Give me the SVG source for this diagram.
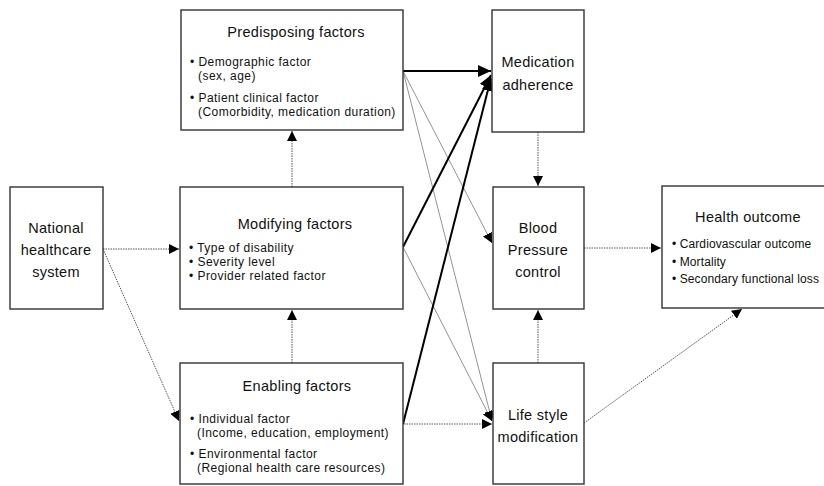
<svg xmlns="http://www.w3.org/2000/svg" width="824" height="486" viewBox="0 0 824 486">
<style>
.box{fill:#fff;stroke:#333;stroke-width:1.4}
text{font-family:"Liberation Sans",Arial,sans-serif;fill:#111}
.lbl{font-size:14.5px;text-anchor:middle;letter-spacing:0.3px}
.ttl{font-size:14.5px;text-anchor:middle;letter-spacing:0.3px}
.itm{font-size:12px;letter-spacing:0.45px}
.itm2{font-size:12px;letter-spacing:0.1px}
.dot{fill:none;stroke:#555;stroke-width:1;stroke-dasharray:1.5,1}
.thin{fill:none;stroke:#777;stroke-width:0.8}
.thick{fill:none;stroke:#000;stroke-width:2}
</style>
<defs>
<marker id="ah" markerUnits="userSpaceOnUse" markerWidth="10" markerHeight="10" refX="10" refY="5" orient="auto">
<path d="M0,0 L10,5 L0,10 z" fill="#000"/>
</marker>
<marker id="ahb" markerUnits="userSpaceOnUse" markerWidth="14" markerHeight="12" refX="13" refY="6" orient="auto">
<path d="M0,0 L13,6 L0,12 z" fill="#000"/>
</marker>
</defs>
<rect width="824" height="486" fill="#fff"/>
<g id="connectors">
<path class="dot" d="M103,249 L179,249" marker-end="url(#ah)"/>
<path class="dot" d="M103,249 L179,421" marker-end="url(#ah)"/>
<path class="dot" d="M292,187 L292,131" marker-end="url(#ah)"/>
<path class="dot" d="M292,363 L292,310" marker-end="url(#ah)"/>
<path class="thin" d="M403,71 L492,243" marker-end="url(#ah)"/>
<path class="thin" d="M403,71 L492,421" marker-end="url(#ah)"/>
<path class="thin" d="M403,247 L492,421" marker-end="url(#ah)"/>
<path class="dot" d="M404,424 L492,424" marker-end="url(#ah)"/>
<path class="thick" d="M403,71 L491,71" marker-end="url(#ahb)"/>
<path class="thick" d="M403,247 L491,75" marker-end="url(#ahb)"/>
<path class="thick" d="M403,424 L491,78" marker-end="url(#ahb)"/>
<path class="dot" d="M538,132 L538,186" marker-end="url(#ah)"/>
<path class="dot" d="M538,363 L538,310" marker-end="url(#ah)"/>
<path class="dot" d="M584,248 L661,248" marker-end="url(#ah)"/>
<path class="dot" d="M584,423 L742,309" marker-end="url(#ah)"/>
</g>
<g id="national">
<rect class="box" x="10" y="187" width="93" height="122"/>
<text class="lbl" x="56" y="233">National</text>
<text class="lbl" x="56" y="255">healthcare</text>
<text class="lbl" x="56" y="277">system</text>
</g>
<g id="predisposing">
<rect class="box" x="181" y="10" width="222" height="120"/>
<text class="ttl" x="296" y="37">Predisposing factors</text>
<text class="itm" x="190" y="66">• Demographic factor</text>
<text class="itm" x="198" y="80">(sex, age)</text>
<text class="itm" x="190" y="102">• Patient clinical factor</text>
<text class="itm" x="198" y="116">(Comorbidity, medication duration)</text>
</g>
<g id="modifying">
<rect class="box" x="180" y="187" width="223" height="122"/>
<text class="ttl" x="295" y="229">Modifying factors</text>
<text class="itm" x="189" y="252">• Type of disability</text>
<text class="itm" x="189" y="266">• Severity level</text>
<text class="itm" x="189" y="280">• Provider related factor</text>
</g>
<g id="enabling">
<rect class="box" x="180" y="363" width="223" height="121"/>
<text class="ttl" x="297" y="391">Enabling factors</text>
<text class="itm" x="190" y="423">• Individual factor</text>
<text class="itm" x="197" y="437">(Income, education, employment)</text>
<text class="itm" x="190" y="458">• Environmental factor</text>
<text class="itm" x="197" y="472">(Regional health care resources)</text>
</g>
<g id="medication">
<rect class="box" x="492" y="10" width="92" height="122"/>
<text class="lbl" x="538" y="67">Medication</text>
<text class="lbl" x="538" y="90">adherence</text>
</g>
<g id="bp">
<rect class="box" x="493" y="187" width="91" height="122"/>
<text class="lbl" x="538" y="233">Blood</text>
<text class="lbl" x="538" y="255">Pressure</text>
<text class="lbl" x="538" y="277">control</text>
</g>
<g id="lifestyle">
<rect class="box" x="493" y="363" width="91" height="121"/>
<text class="lbl" x="538" y="420">Life style</text>
<text class="lbl" x="538" y="442">modification</text>
</g>
<g id="health">
<rect class="box" x="662" y="186" width="170" height="122"/>
<text class="ttl" x="748" y="222">Health outcome</text>
<text class="itm2" x="672" y="248">• Cardiovascular outcome</text>
<text class="itm2" x="672" y="266">• Mortality</text>
<text class="itm2" x="672" y="283">• Secondary functional loss</text>
</g>
</svg>
